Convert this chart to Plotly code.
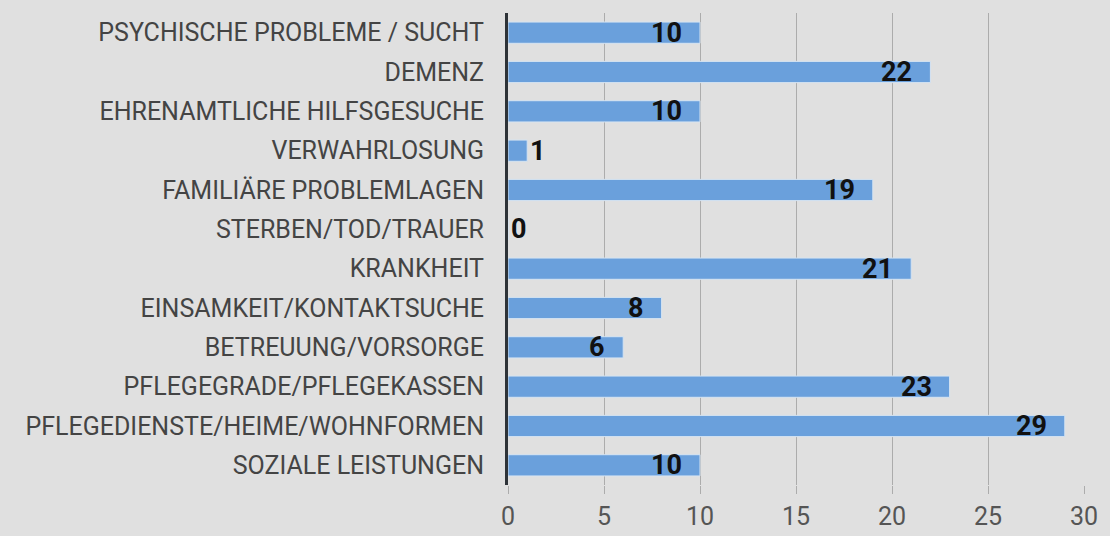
import plotly.graph_objects as go

categories = [
    "PSYCHISCHE PROBLEME / SUCHT",
    "DEMENZ",
    "EHRENAMTLICHE HILFSGESUCHE",
    "VERWAHRLOSUNG",
    "FAMILIÄRE PROBLEMLAGEN",
    "STERBEN/TOD/TRAUER",
    "KRANKHEIT",
    "EINSAMKEIT/KONTAKTSUCHE",
    "BETREUUNG/VORSORGE",
    "PFLEGEGRADE/PFLEGEKASSEN",
    "PFLEGEDIENSTE/HEIME/WOHNFORMEN",
    "SOZIALE LEISTUNGEN",
]
values = [10, 22, 10, 1, 19, 0, 21, 8, 6, 23, 29, 10]
tick_values = [0, 5, 10, 15, 20, 25, 30]

fig = go.Figure()
fig.add_trace(go.Bar(
    x=values, y=categories, orientation="h",
    marker=dict(color="#6aa0dc", line=dict(color="#d6e4f2", width=1)),
    hoverinfo="x+y",
))

annotations = []
for c, v in zip(categories, values):
    if v >= 3:
        annotations.append(dict(x=v, y=c, text=f"<b>{v}</b>", showarrow=False,
                                xanchor="right", xshift=-16,
                                font=dict(family="Roboto", size=27, color="#111111")))
    else:
        annotations.append(dict(x=v, y=c, text=f"<b>{v}</b>", showarrow=False,
                                xanchor="left", xshift=1,
                                font=dict(family="Roboto", size=27, color="#111111")))

fig.update_layout(
    width=1110, height=536,
    margin=dict(l=508, r=26, t=13, b=51),
    paper_bgcolor="#e0e0e0", plot_bgcolor="#e0e0e0",
    bargap=0.46,
    showlegend=False,
    annotations=annotations,
    font=dict(family="Roboto", color="#444444"),
    xaxis=dict(range=[0, 30], tickvals=tick_values, showgrid=True,
               gridcolor="#acacac", gridwidth=1, zeroline=False,
               ticks="outside", ticklen=8, tickcolor="#acacac",
               ticklabelstandoff=1, automargin=False,
               tickfont=dict(family="Roboto", size=25, color="#555555"),
               showline=False),
    yaxis=dict(autorange="reversed", showline=True, linecolor="#2e3338",
               linewidth=3, ticks="", ticklabelstandoff=16, automargin=False,
               tickfont=dict(family="Roboto", size=25, color="#444444")),
)

fig.write_html("out.html", config={"displayModeBar": False},
               post_script="document.body.style.margin='0';document.body.style.overflow='hidden';")
